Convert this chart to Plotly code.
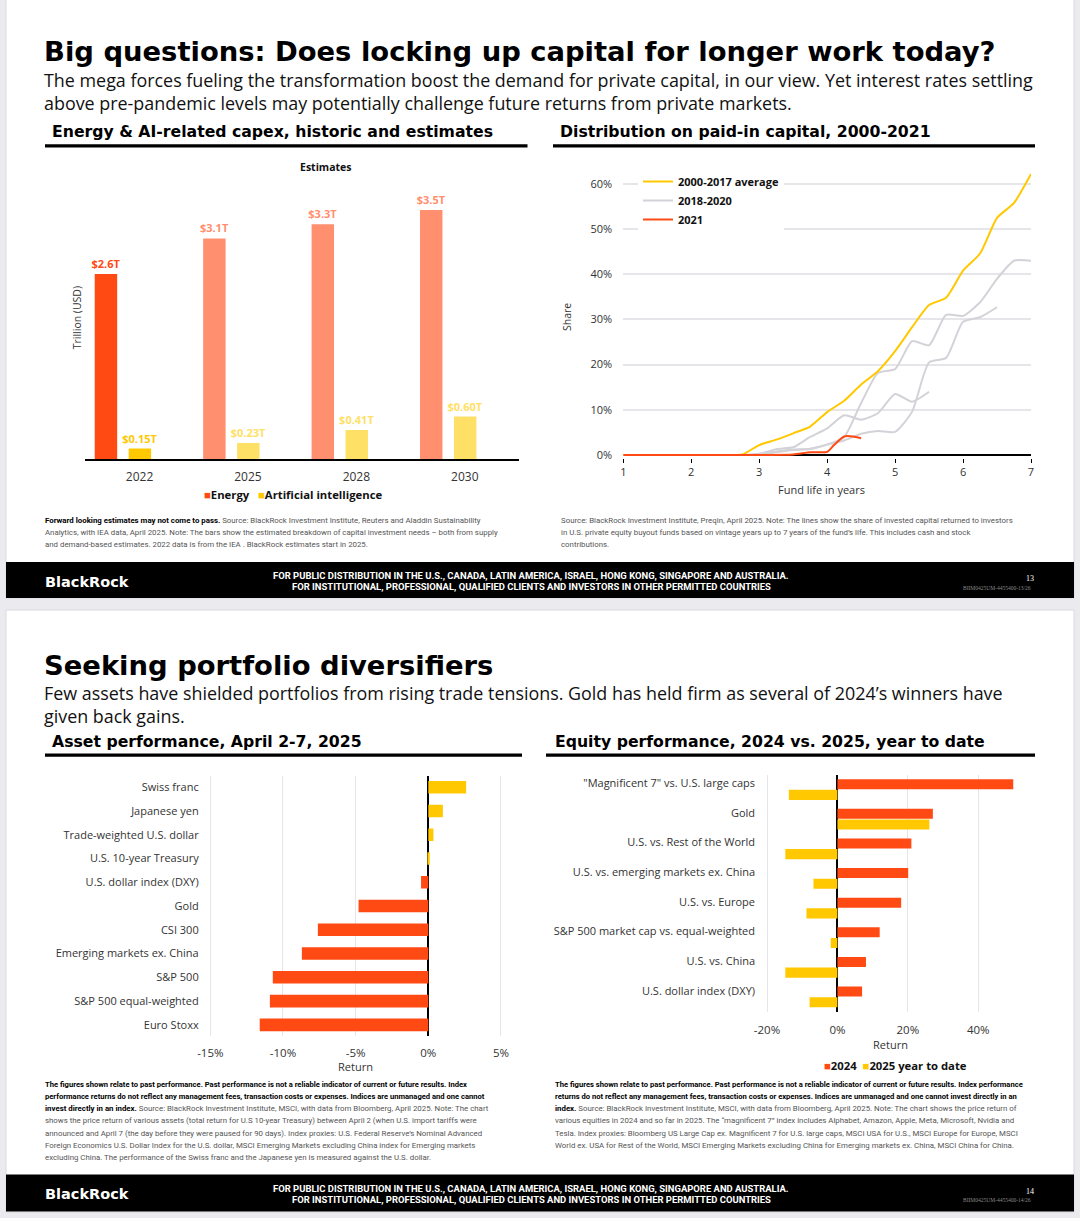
import plotly.graph_objects as go

W, H = 1080, 1218

# ---------------- data ----------------
capex_years = ["2022", "2025", "2028", "2030"]
capex_is_estimate = [False, True, True, True]
energy_capex = [2.6, 3.1, 3.3, 3.5]
ai_capex = [0.15, 0.23, 0.41, 0.60]

dpi_x_avg = [1.0, 1.5, 2.0, 2.5, 2.75, 3.0, 3.25, 3.5, 3.75, 4.0, 4.25, 4.5, 4.75,
             5.0, 5.25, 5.5, 5.75, 6.0, 6.25, 6.5, 6.75, 7.0]
dpi_avg_2000_2017 = [0, 0, 0, 0, 0.1, 2.2, 3.4, 4.8, 6.3, 9.5, 12.0, 15.6, 18.6,
                     23.0, 28.3, 33.2, 34.8, 40.8, 44.6, 52.5, 55.8, 62.2]
dpi_x_2018 = [1.0, 1.5, 2.0, 2.5, 2.75, 3.0, 3.25, 3.5, 3.75, 4.0, 4.25, 4.5, 4.75,
              5.0, 5.25, 5.5, 5.75, 6.0, 6.25, 6.5, 6.75, 7.0]
dpi_2018 = [0, 0, 0, 0, 0, 0.3, 0.8, 1.2, 1.4, 2.3, 4.0, 11.5, 18.2,
            19.0, 25.2, 24.3, 31.0, 30.8, 33.8, 39.0, 43.0, 43.0]
dpi_x_2019 = [1.0, 1.5, 2.0, 2.5, 2.75, 3.0, 3.25, 3.5, 3.75, 4.0, 4.25, 4.5, 4.75,
              5.0, 5.25, 5.5, 5.75, 6.0, 6.25, 6.5]
dpi_2019 = [0, 0, 0, 0, 0, 0, 0.6, 1.1, 1.3, 2.3, 3.2, 4.7, 5.3,
            5.1, 9.6, 20.5, 21.5, 29.5, 30.5, 32.7]
dpi_x_2020 = [1.0, 1.5, 2.0, 2.5, 2.75, 3.0, 3.25, 3.5, 3.75, 4.0, 4.25, 4.5, 4.75,
              5.0, 5.25, 5.5]
dpi_2020 = [0, 0, 0, 0, 0, 0.2, 1.3, 1.7, 4.0, 5.9, 8.8, 7.8, 9.3,
            13.5, 11.8, 14.0]
dpi_x_2021 = [1.0, 2.0, 3.0, 3.5, 3.75, 4.0, 4.1, 4.25, 4.38, 4.5]
dpi_2021 = [0, 0, 0, 0.1, 0.6, 0.7, 2.2, 4.1, 4.1, 3.7]
dpi_ticks = [0, 10, 20, 30, 40, 50, 60]

assets = ["Swiss franc", "Japanese yen", "Trade-weighted U.S. dollar",
          "U.S. 10-year Treasury", "U.S. dollar index (DXY)", "Gold", "CSI 300",
          "Emerging markets ex. China", "S&P 500", "S&P 500 equal-weighted", "Euro Stoxx"]
asset_return = [2.6, 1.0, 0.35, 0.1, -0.5, -4.8, -7.6, -8.7, -10.7, -10.9, -11.6]
asset_ticks = [-15, -10, -5, 0, 5]

equity_cats = ['"Magnificent 7" vs. U.S. large caps', "Gold", "U.S. vs. Rest of the World",
               "U.S. vs. emerging markets ex. China", "U.S. vs. Europe",
               "S&P 500 market cap vs. equal-weighted", "U.S. vs. China",
               "U.S. dollar index (DXY)"]
ret_2024 = [50.0, 27.1, 21.0, 20.1, 18.1, 12.0, 8.1, 7.0]
ret_2025_ytd = [-13.8, 26.1, -14.8, -6.8, -8.8, -1.9, -14.8, -7.9]
equity_ticks = [-20, 0, 20, 40]

# ---------------- style ----------------
RED = "#FF4A14"
SALMON = "#FF8F6E"
GOLD = "#FFC800"
LIGHTGOLD = "#FFE066"
GREY_LINE = "#D2D2D8"
GRID = "#E6E6EA"
BODY = "Roboto"
HEAD = "DejaVu Sans"
SUB = "Open Sans"
CHART = "Open Sans"


def fx(x):
    return x / W


def fy(y):
    return 1 - y / H


def pct(v):
    return f"{v}%"


fig = go.Figure()

# ---- capex bars ----
energy_colors = [SALMON if e else RED for e in capex_is_estimate]
ai_colors = [LIGHTGOLD if e else GOLD for e in capex_is_estimate]
fig.add_trace(go.Bar(
    x=capex_years, y=energy_capex, xaxis="x", yaxis="y", name="Energy",
    offset=-0.413, width=0.207, marker=dict(color=energy_colors, line=dict(width=0)),
    text=[f"<b>${v:.1f}T</b>" for v in energy_capex], textposition="outside",
    constraintext="none", textfont=dict(family=CHART, size=11, color=energy_colors),
    cliponaxis=False, showlegend=False, hoverinfo="skip"))
fig.add_trace(go.Bar(
    x=capex_years, y=ai_capex, xaxis="x", yaxis="y", name="Artificial intelligence",
    offset=-0.1, width=0.207, marker=dict(color=ai_colors, line=dict(width=0)),
    text=[f"<b>${v:.2f}T</b>" for v in ai_capex], textposition="outside",
    constraintext="none", textfont=dict(family=CHART, size=11, color=ai_colors),
    cliponaxis=False, showlegend=False, hoverinfo="skip"))

# ---- distribution lines ----
for i, (xs, ys) in enumerate([(dpi_x_2018, dpi_2018), (dpi_x_2019, dpi_2019), (dpi_x_2020, dpi_2020)]):
    fig.add_trace(go.Scatter(
        x=xs, y=ys, xaxis="x2", yaxis="y2", mode="lines", name="2018-2020",
        line=dict(color=GREY_LINE, width=2, shape="spline", smoothing=0.6),
        showlegend=(i == 0), legendrank=2, hoverinfo="skip"))
fig.add_trace(go.Scatter(
    x=dpi_x_avg, y=dpi_avg_2000_2017, xaxis="x2", yaxis="y2", mode="lines",
    name="2000-2017 average", legendrank=1,
    line=dict(color=GOLD, width=2, shape="spline", smoothing=0.6), hoverinfo="skip"))
fig.add_trace(go.Scatter(
    x=dpi_x_2021, y=dpi_2021, xaxis="x2", yaxis="y2", mode="lines",
    name="2021", legendrank=3,
    line=dict(color=RED, width=2, shape="spline", smoothing=0.6), hoverinfo="skip"))

# ---- asset performance ----
fig.add_trace(go.Bar(
    x=asset_return, y=assets, orientation="h", xaxis="x3", yaxis="y3",
    width=0.53, marker=dict(color=[GOLD if v > 0 else RED for v in asset_return], line=dict(width=0)),
    showlegend=False, hoverinfo="skip"))

# ---- equity performance ----
fig.add_trace(go.Bar(
    x=ret_2024, y=equity_cats, orientation="h", xaxis="x4", yaxis="y4", name="2024",
    offset=-0.14, width=0.34, marker=dict(color=RED, line=dict(width=0)),
    showlegend=False, hoverinfo="skip"))
fig.add_trace(go.Bar(
    x=ret_2025_ytd, y=equity_cats, orientation="h", xaxis="x4", yaxis="y4", name="2025 year to date",
    offset=0.22, width=0.34, marker=dict(color=GOLD, line=dict(width=0)),
    showlegend=False, hoverinfo="skip"))

# ---------------- shapes ----------------
shapes = []


def rect(x0, y0, x1, y1, color, layer="below", line=None):
    shapes.append(dict(type="rect", xref="paper", yref="paper", x0=fx(x0), x1=fx(x1),
                       y0=fy(y1), y1=fy(y0), fillcolor=color, layer=layer,
                       line=dict(width=0) if line is None else line))


rect(6, -5, 1074, 598, "white", line=dict(color="#DADADF", width=1))
rect(6, 610, 1074, 1212, "white", line=dict(color="#DADADF", width=1))
rect(6, 562, 1074, 598, "black")
rect(6, 1174.5, 1074, 1211.5, "black")
# heading rules
rect(45, 144.2, 527.5, 147.4, "black")
rect(553, 144.2, 1035, 147.4, "black")
rect(45, 753.5, 522, 756.7, "black")
rect(546, 753.5, 1035, 756.7, "black")

# ---------------- annotations ----------------
ann = []


def text(x, y, s, size, color="#000", family=BODY, xanchor="left", angle=0):
    ann.append(dict(x=fx(x), y=fy(y), xref="paper", yref="paper", text=s, showarrow=False,
                    xanchor=xanchor, yanchor="middle", textangle=angle, align="left",
                    font=dict(family=family, size=size, color=color)))


TITLE = 27.4
SUBSZ = 17.9
HDR = 15.7

# slide 1
text(42, 51, "<b>Big questions: Does locking up capital for longer work today?</b>", TITLE, "#000", HEAD)
text(42, 91.5, "The mega forces fueling the transformation boost the demand for private capital, in our view. Yet interest rates settling"
     "<br>above pre-pandemic levels may potentially challenge future returns from private markets.", SUBSZ, "#111", SUB)
text(50, 131.5, "<b>Energy &amp; AI-related capex, historic and estimates</b>", HDR, "#000", HEAD)
text(558, 131.5, "<b>Distribution on paid-in capital, 2000-2021</b>", HDR, "#000", HEAD)
text(326, 167.3, "<b>Estimates</b>", 10.5, "#111", CHART, "center")
text(77.3, 318, "Trillion (USD)", 10.5, "#333", CHART, "center", -90)
text(292.5, 494, f'<span style="color:{RED}">■</span><b>Energy</b>   '
                 f'<span style="color:{GOLD}">■</span><b>Artificial intelligence</b>', 11.3, "#111", CHART, "center")
text(567, 317, "Share", 10.5, "#333", CHART, "center", -90)
text(821, 489, "Fund life in years", 11, "#333", CHART, "center")

FN = 7.85
FNB = 7.6
GREYTXT = "#555"
text(43, 520.5, f'<b>Forward looking estimates may not come to pass.</b><span style="color:{GREYTXT}"> Source: BlackRock Investment Institute, Reuters and Aladdin Sustainability</span>', FN, "#000")
text(43, 532.5, "Analytics, with IEA data, April 2025. Note: The bars show the estimated breakdown of capital investment needs – both from supply", FN, GREYTXT)
text(43, 544.3, "and demand-based estimates. 2022 data is from the IEA . BlackRock estimates start in 2025.", FN, GREYTXT)
text(559, 520.5, "Source: BlackRock Investment Institute, Preqin, April 2025. Note: The lines show the share of invested capital returned to investors", FN, GREYTXT)
text(559, 532.5, "in U.S. private equity buyout funds based on vintage years up to 7 years of the fund’s life. This includes cash and stock", FN, GREYTXT)
text(559, 544.3, "contributions.", FN, GREYTXT)

FOOT1 = "<b>FOR PUBLIC DISTRIBUTION IN THE U.S., CANADA, LATIN AMERICA, ISRAEL, HONG KONG, SINGAPORE AND AUSTRALIA.</b>"
FOOT2 = "<b>FOR INSTITUTIONAL, PROFESSIONAL, QUALIFIED CLIENTS AND INVESTORS IN OTHER PERMITTED COUNTRIES</b>"
for base, page in ((562, "13"), (1174.5, "14")):
    text(43, base + 19.5, "<b>BlackRock</b>", 14.5, "white", HEAD)
    text(531, base + 13.5, FOOT1, 9.45, "white", BODY, "center")
    text(531, base + 24.7, FOOT2, 9.45, "white", BODY, "center")
    text(1033, base + 25.5, f"BIIM0425UM-4455400-{page}/26", 5.5, "#8A8A8A", "Liberation Serif", "right")
    text(1030, base + 16.5, page, 8, "white", "Liberation Serif", "center")

# slide 2
text(42, 665, "<b>Seeking portfolio diversifiers</b>", TITLE, "#000", HEAD)
text(42, 704.7, "Few assets have shielded portfolios from rising trade tensions. Gold has held firm as several of 2024’s winners have"
     "<br>given back gains.", SUBSZ, "#111", SUB)
text(50, 741.7, "<b>Asset performance, April 2-7, 2025</b>", HDR, "#000", HEAD)
text(553, 741.7, "<b>Equity performance, 2024 vs. 2025, year to date</b>", HDR, "#000", HEAD)
text(355.7, 1066.7, "Return", 11, "#333", CHART, "center")
text(890, 1044, "Return", 11, "#333", CHART, "center")
text(895, 1065, f'<span style="color:{RED}">■</span><b>2024</b>  '
                f'<span style="color:{GOLD}">■</span><b>2025 year to date</b>', 11.3, "#111", CHART, "center")

L2 = [
    ("<b>The figures shown relate to past performance. Past performance is not a reliable indicator of current or future results. Index</b>", 1084.3, FNB),
    ("<b>performance returns do not reflect any management fees, transaction costs or expenses. Indices are unmanaged and one cannot</b>", 1096.6, FNB),
    (f'<b>invest directly in an index.</b><span style="color:{GREYTXT}"> Source: BlackRock Investment Institute, MSCI, with data from Bloomberg, April 2025. Note: The chart</span>', 1108.6, FN),
    (f'<span style="color:{GREYTXT}">shows the price return of various assets (total return for U.S 10-year Treasury) between April 2 (when U.S. import tariffs were</span>', 1120.8, FN),
    (f'<span style="color:{GREYTXT}">announced and April 7 (the day before they were paused for 90 days). Index proxies: U.S. Federal Reserve’s Nominal Advanced</span>', 1133, FN),
    (f'<span style="color:{GREYTXT}">Foreign Economics U.S. Dollar Index for the U.S. dollar, MSCI Emerging Markets excluding China index for Emerging markets</span>', 1145, FN),
    (f'<span style="color:{GREYTXT}">excluding China. The performance of the Swiss franc and the Japanese yen is measured against the U.S. dollar.</span>', 1157, FN),
]
for s, y, sz in L2:
    text(43, y, s, sz, "#000")
R2 = [
    ("<b>The figures shown relate to past performance. Past performance is not a reliable indicator of current or future results. Index performance</b>", 1084.3, FNB),
    ("<b>returns do not reflect any management fees, transaction costs or expenses. Indices are unmanaged and one cannot invest directly in an</b>", 1096.6, FNB),
    (f'<b>index.</b><span style="color:{GREYTXT}"> Source: BlackRock Investment Institute, MSCI, with data from Bloomberg, April 2025. Note: The chart shows the price return of</span>', 1108.6, FN),
    (f'<span style="color:{GREYTXT}">various equities in 2024 and so far in 2025. The “magnificent 7” index includes Alphabet, Amazon, Apple, Meta, Microsoft, Nvidia and</span>', 1120.8, FN),
    (f'<span style="color:{GREYTXT}">Tesla. Index proxies: Bloomberg US Large Cap ex. Magnificent 7 for U.S. large caps, MSCI USA for U.S., MSCI Europe for Europe, MSCI</span>', 1133, FN),
    (f'<span style="color:{GREYTXT}">World ex. USA for Rest of the World, MSCI Emerging Markets excluding China for Emerging markets ex. China, MSCI China for China.</span>', 1145, FN),
]
for s, y, sz in R2:
    text(553, y, s, sz, "#000")

# ---------------- axes ----------------
tickfont = dict(family=CHART, size=11, color="#333")
clear = "rgba(0,0,0,0)"

fig.update_layout(
    width=W, height=H, margin=dict(l=0, r=0, t=0, b=0, pad=0, autoexpand=False),
    paper_bgcolor="#EBEBEF", plot_bgcolor=clear,
    barmode="overlay", shapes=shapes, annotations=ann,
    font=dict(family=CHART, size=11, color="#333"),
    xaxis=dict(domain=[fx(85.3), fx(519)], anchor="y", type="category", range=[-0.5, 3.5],
               showline=True, linecolor="black", linewidth=1.5, showgrid=False, zeroline=False,
               ticks="outside", ticklen=6, tickcolor=clear, tickfont=dict(family=CHART, size=12, color="#333"),
               fixedrange=True, automargin=False),
    yaxis=dict(domain=[fy(459.3), fy(174.3)], anchor="x", range=[0, 4], visible=False, fixedrange=True,
               automargin=False),
    xaxis2=dict(domain=[fx(623.3), fx(1031)], anchor="y2", range=[1, 7], dtick=1, showgrid=False,
                zeroline=False, showline=False, ticks="outside", ticklen=4, tickwidth=1, tickcolor="black",
                tickfont=tickfont, fixedrange=True, automargin=False),
    yaxis2=dict(domain=[fy(457.7), fy(170.4)], anchor="x2", range=[-0.6, 63],
                tickvals=dpi_ticks, ticktext=[pct(v) for v in dpi_ticks], showgrid=True, gridcolor=GRID,
                gridwidth=1.5, zeroline=True, zerolinecolor="black", zerolinewidth=1.5,
                ticks="outside", ticklen=8, tickcolor=clear, tickfont=tickfont, fixedrange=True,
                automargin=False),
    xaxis3=dict(domain=[fx(210.3 - 2.9), fx(501 + 2.9)], anchor="y3", range=[-15.2, 5.2],
                tickvals=asset_ticks, ticktext=[pct(v) for v in asset_ticks],
                showgrid=True, gridcolor=GRID, gridwidth=1.2, zeroline=True, zerolinecolor="black",
                zerolinewidth=1.5, ticks="outside", ticklen=6, tickcolor=clear,
                tickfont=dict(family=CHART, size=11.5, color="#333"), fixedrange=True, automargin=False),
    yaxis3=dict(domain=[fy(1036), fy(776)], anchor="x3", type="category", categoryorder="array",
                categoryarray=assets, range=[10.47, -0.475], showgrid=False, zeroline=False,
                ticks="outside", ticklen=5.5, tickcolor=clear, tickfont=tickfont, fixedrange=True,
                automargin=False),
    xaxis4=dict(domain=[fx(767 - 1.76), fx(1013.5)], anchor="y4", range=[-20.5, 50],
                tickvals=equity_ticks, ticktext=[pct(v) for v in equity_ticks],
                showgrid=True, gridcolor=GRID, gridwidth=1.2, zeroline=True,
                zerolinecolor="black", zerolinewidth=1.5, ticks="outside", ticklen=7, tickcolor=clear,
                tickfont=dict(family=CHART, size=11.5, color="#333"), fixedrange=True, automargin=False),
    yaxis4=dict(domain=[fy(1011.7), fy(775)], anchor="x4", type="category", categoryorder="array",
                categoryarray=equity_cats, range=[7.71, -0.28], showgrid=False, zeroline=False,
                ticks="outside", ticklen=7, tickcolor=clear, tickfont=tickfont, fixedrange=True,
                automargin=False),
    legend=dict(x=fx(638), y=fy(167), xanchor="left", yanchor="top", bgcolor="white",
                font=dict(family=CHART, size=11, color="#111", weight="bold"),
                traceorder="normal", itemclick=False, itemdoubleclick=False, tracegroupgap=0),
)

POST = ("var d=document.getElementById('{plot_id}');"
        "d.style.position='fixed';d.style.left='0px';d.style.top='0px';"
        "document.body.style.margin='0px';"
        "document.documentElement.style.overflow='hidden';document.body.style.overflow='hidden';")
fig.write_html("out.html", post_script=POST, config={"displayModeBar": False})
